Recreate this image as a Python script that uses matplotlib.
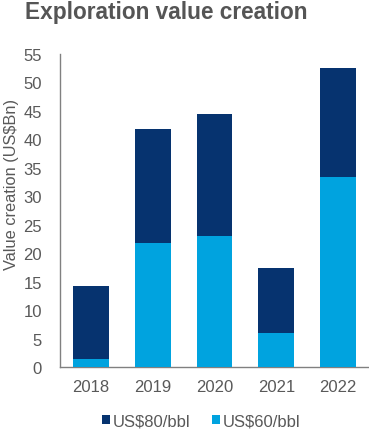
"""Stacked bar chart: exploration value creation at two oil price decks."""

import matplotlib

matplotlib.use("Agg")
import matplotlib.pyplot as plt  # noqa: E402
import numpy as np  # noqa: E402

plt.rcParams["font.family"] = ["Liberation Sans", "DejaVu Sans"]

# values (US$Bn)
years = ["2018", "2019", "2020", "2021", "2022"]
value_60 = [1.4, 21.8, 23.1, 5.9, 33.4]
value_80 = [14.3, 41.8, 44.5, 17.4, 52.5]
yticks = list(range(0, 56, 5))

DARK = "#06336f"
LIGHT = "#00a3df"
GREY = "#595959"

fig = plt.figure(figsize=(3.69, 4.35), dpi=100)
ax = fig.add_axes([60 / 369, 67 / 435, 309 / 369, 313 / 435])

x = np.arange(len(years))
width = 0.58
ax.bar(x, value_80, width=width, color=DARK, label="US$80/bbl", zorder=2)
ax.bar(x, value_60, width=width, color=LIGHT, label="US$60/bbl", zorder=3)

ax.set_xlim(-0.5, len(years) - 0.5)
ax.set_ylim(0, 55)
ax.set_yticks(yticks)
ax.set_xticks(x, years)
ax.tick_params(axis="both", length=0, labelsize=12, colors=GREY)
ax.tick_params(axis="y", pad=13)
ax.tick_params(axis="x", pad=9)

for side in ("top", "right"):
    ax.spines[side].set_visible(False)
for side in ("left", "bottom"):
    ax.spines[side].set_color("#808080")
    ax.spines[side].set_linewidth(1.0)

ax.set_ylabel("Value creation (US$Bn)", fontsize=11.8, color=GREY)
ax.yaxis.set_label_coords(-41 / 309, (368 - 185) / 313)

fig.text(25 / 369, 1 - 13 / 435, "Exploration value creation",
         fontsize=16.3, fontweight="bold", color="#555555", va="center", ha="left")

fig.legend(loc="center", bbox_to_anchor=(201 / 369, 1 - 422 / 435), ncol=2,
           frameon=False, fontsize=12, handlelength=0.5, handleheight=0.5,
           handletextpad=0.15, columnspacing=1.3, labelcolor=GREY,
           borderpad=0)

fig.savefig("out.png", dpi=100)
plt.close(fig)
